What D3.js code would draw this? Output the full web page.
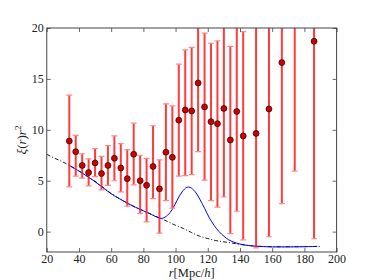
<!DOCTYPE html>
<html>
<head>
<meta charset="utf-8">
<script src="https://cdn.jsdelivr.net/npm/d3@7"></script>
<style>
body { margin: 0; background: #fff; }
svg { display: block; }
</style>
</head>
<body>
<svg id="chart" width="374" height="280"></svg>
<script>
// measured correlation function, r^2 xi(r), with error bar ends
var rBins = [34, 38, 42, 46, 50, 54, 58, 62, 66, 70, 74, 78, 82, 86, 90, 94, 98,
    102, 106, 110, 114, 118, 122, 126, 130, 134, 138, 142, 150, 158, 166, 174, 186];
var xiR2 = [8.9, 7.85, 6.5, 5.8, 6.75, 5.7, 6.5, 7.2, 6.25, 5.2, 7.6, 5.0, 4.55, 6.4, 4.2, 7.8, 7.3,
    10.95, 11.95, 11.85, 14.6, 12.25, 10.8, 10.6, 12.1, 9.0, 11.8, 9.4, 9.65, 12.05, 16.6, 22.0, 18.7];
var errTop = [13.4, 9.45, 7.65, 7.15, 8.15, 7.4, 8.45, 9.4, 8.65, 8.05, 10.65, 7.5, 7.2, 10.4, 7.05, 12.55, 12.35,
    16.45, 17.85, 18.1, 21.3, 19.5, 18.5, 18.75, 20.8, 18.2, 21.6, 19.65, 20.9, 24.6, 30.5, 38, 38];
var errBottom = [4.4, 5.45, 5.25, 4.5, 5.4, 4.1, 4.55, 5.0, 3.9, 2.5, 4.6, 1.8, 0.95, 3.25, -0.15, 3.05, 2.3,
    5.45, 5.5, 5.6, 7.85, 5.05, 3.05, 2.4, 3.4, -0.2, 2.0, -0.8, -1.6, -0.5, 2.75, 5.95, -0.7];

// model with BAO peak (blue)
var rWiggle = [34, 40, 45, 50, 55, 60, 65, 70, 75, 80, 85, 88, 90, 92, 95, 98, 101, 104, 107, 109,
    112, 115, 118, 121, 124, 127, 130, 133, 136, 140, 145, 150, 160, 170, 180, 188];
var xiWiggle = [6.5, 5.95, 5.45, 4.9, 4.3, 3.72, 3.25, 2.8, 2.4, 2.05, 1.68, 1.45, 1.32, 1.32, 1.6, 2.2, 3.1, 3.9, 4.35, 4.35,
    3.95, 3.2, 2.3, 1.35, 0.6, 0.0, -0.45, -0.8, -1.02, -1.22, -1.36, -1.43, -1.5, -1.5, -1.48, -1.45];

// model without peak (black dash-dot)
var rSmooth = [20, 25, 30, 34, 40, 45, 50, 55, 60, 65, 70, 75, 80, 85, 90, 95, 100, 105, 110, 115,
    120, 125, 130, 135, 140, 145, 150, 160, 170, 180, 190];
var xiSmooth = [7.6, 7.2, 6.85, 6.5, 5.95, 5.45, 4.95, 4.35, 3.75, 3.25, 2.8, 2.4, 2.05, 1.7, 1.35, 1.0, 0.62, 0.3, -0.1, -0.45,
    -0.68, -0.88, -1.0, -1.12, -1.25, -1.35, -1.42, -1.48, -1.48, -1.47, -1.45];

var xTicks = [20, 40, 60, 80, 100, 120, 140, 160, 180, 200];
var yTicks = [0, 5, 10, 15, 20];

chart = {};
chart.margins = { top: 28, right: 37.4, bottom: 28, left: 46.75 };
chart.x = d3.scaleLinear().domain([20, 200]);
chart.y = d3.scaleLinear().domain([-2, 20]);

chart.init = function() {
    var svg = d3.select("#chart");
    this.width = +svg.attr("width") - this.margins.left - this.margins.right;
    this.height = +svg.attr("height") - this.margins.top - this.margins.bottom;
    this.x.range([0, this.width]);
    this.y.range([this.height, 0]);

    this.svg = svg.append("g")
        .attr("transform", `translate(${this.margins.left}, ${this.margins.top})`);

    this.svg.append("clipPath").attr("id", "plotClip")
        .append("rect")
        .attr("width", this.width)
        .attr("height", this.height);

    this.plot = this.svg.append("g").attr("clip-path", "url(#plotClip)");

    this.drawCurves();
    this.drawErrorBars();
    this.drawAxes();
    this.drawLabels();
};

chart.drawCurves = function() {
    var line = d3.line()
        .x((d) => this.x(d[0]))
        .y((d) => this.y(d[1]))
        .curve(d3.curveCatmullRom);

    this.plot.append("path")
        .datum(rSmooth.map((r, i) => [r, xiSmooth[i]]))
        .attr("d", line)
        .attr("fill", "none")
        .attr("stroke", "#000")
        .attr("stroke-width", 0.9)
        .attr("stroke-dasharray", "4,2,1,2");

    this.plot.append("path")
        .datum(rWiggle.map((r, i) => [r, xiWiggle[i]]))
        .attr("d", line)
        .attr("fill", "none")
        .attr("stroke", "#0000ff")
        .attr("stroke-width", 1);
};

chart.drawErrorBars = function() {
    var data = rBins.map((r, i) => ({ r: r, v: xiR2[i], hi: errTop[i], lo: errBottom[i] }));
    var g = this.plot.append("g");

    g.selectAll("line.bar")
        .data(data)
        .enter()
        .append("line")
        .attr("class", "bar")
        .attr("x1", (d) => this.x(d.r))
        .attr("x2", (d) => this.x(d.r))
        .attr("y1", (d) => this.y(d.hi))
        .attr("y2", (d) => this.y(d.lo))
        .attr("stroke", "#ff1a1a")
        .attr("stroke-opacity", 0.85)
        .attr("stroke-width", 2);

    // caps at both ends
    ["hi", "lo"].forEach((k) => {
        g.selectAll(`line.cap-${k}`)
            .data(data)
            .enter()
            .append("line")
            .attr("class", `cap-${k}`)
            .attr("x1", (d) => this.x(d.r) - 3)
            .attr("x2", (d) => this.x(d.r) + 3)
            .attr("y1", (d) => this.y(d[k]))
            .attr("y2", (d) => this.y(d[k]))
            .attr("stroke", "#ff8a8a")
            .attr("stroke-width", 1.2);
    });

    g.selectAll("circle")
        .data(data)
        .enter()
        .append("circle")
        .attr("cx", (d) => this.x(d.r))
        .attr("cy", (d) => this.y(d.v))
        .attr("r", 3)
        .attr("fill", "#d00000")
        .attr("stroke", "#000")
        .attr("stroke-width", 0.6);
};

chart.drawAxes = function() {
    var font = "'Liberation Serif', 'DejaVu Serif', serif";

    // inward ticks on all four sides
    var bottom = this.svg.append("g")
        .attr("transform", `translate(0, ${this.height})`)
        .call(d3.axisBottom(this.x).tickValues(xTicks).tickSize(-4).tickPadding(2).tickSizeOuter(0));
    var top = this.svg.append("g")
        .call(d3.axisTop(this.x).tickValues(xTicks).tickSize(-4).tickFormat("").tickSizeOuter(0));
    var left = this.svg.append("g")
        .call(d3.axisLeft(this.y).tickValues(yTicks).tickSize(-4).tickPadding(3).tickSizeOuter(0));
    var right = this.svg.append("g")
        .attr("transform", `translate(${this.width}, 0)`)
        .call(d3.axisRight(this.y).tickValues(yTicks).tickSize(-4).tickFormat("").tickSizeOuter(0));

    [bottom, top, left, right].forEach((a) => {
        a.select(".domain").remove();
        a.selectAll("line").attr("stroke", "#444").attr("stroke-width", 0.8);
        a.selectAll("text")
            .attr("fill", "#222")
            .style("font-family", font)
            .style("font-size", "12px");
    });

    this.svg.append("rect")
        .attr("width", this.width)
        .attr("height", this.height)
        .attr("fill", "none")
        .attr("stroke", "#444")
        .attr("stroke-width", 1);
};

chart.drawLabels = function() {
    var font = "'Liberation Serif', 'DejaVu Serif', serif";

    var xl = this.svg.append("text")
        .attr("x", this.width / 2)
        .attr("y", this.height + 25)
        .attr("text-anchor", "middle")
        .style("font-family", font)
        .style("font-size", "12.5px")
        .attr("fill", "#222");
    xl.append("tspan").style("font-style", "italic").text("r");
    xl.append("tspan").text("[Mpc/");
    xl.append("tspan").style("font-style", "italic").text("h");
    xl.append("tspan").text("]");

    var yl = this.svg.append("text")
        .attr("transform", `translate(${26 - this.margins.left}, ${this.height / 2}) rotate(-90)`)
        .attr("text-anchor", "middle")
        .style("font-family", font)
        .style("font-size", "13px")
        .attr("fill", "#222");
    yl.append("tspan").style("font-style", "italic").text("ξ");
    yl.append("tspan").text("(");
    yl.append("tspan").style("font-style", "italic").text("r");
    yl.append("tspan").text(")");
    yl.append("tspan").style("font-style", "italic").text("r");
    yl.append("tspan").attr("dy", -5).style("font-size", "9px").text("2");
};

chart.init();
</script>
</body>
</html>
